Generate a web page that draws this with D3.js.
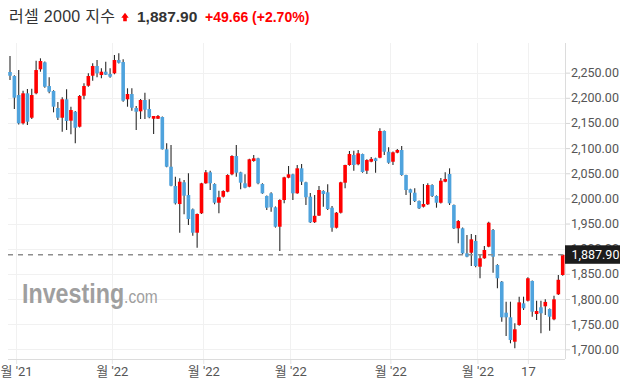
<!DOCTYPE html>
<html><head><meta charset="utf-8">
<script src="https://cdn.jsdelivr.net/npm/d3@7"></script>
<style>body{margin:0;background:#fff}svg{display:block}</style>
</head><body>
<svg id="c" width="632" height="383"></svg>
<script>
const openV = [2251.3,2243.3,2205.5,2149.3,2208.9,2160.4,2209,2256.6,2270.5,2223.4,2213.5,2179.7,2160.4,2197,2154.5,2172.3,2142.5,2204.1,2224,2243.9,2263.2,2245.3,2251.9,2247.3,2248.7,2275.1,2271.1,2197,2207.5,2179.7,2173.1,2195.6,2177.7,2158.4,2158.4,2161.8,2097.6,2063,2024.6,1988.8,2032,2006.7,1978.3,1931.8,1970.4,2030,2051.9,2028.6,1991.4,2003.4,2013.3,2047.9,2084.3,2051.9,2030,2023.2,2074.4,2079.7,2028.6,2004.8,2010.1,1982.3,1943.7,1996.8,2041.1,2047.9,2010.1,2059.8,2032,2003.4,1952.7,1965.8,2014.7,2012.1,1981.5,1941.7,1971.5,2031.2,2066.4,2086.3,2067.8,2088.2,2055.1,2073,2079.7,2080.9,2134,2092.8,2072.9,2090.9,2096.2,2046.5,2018.1,2011.3,1994.8,1983.5,1988.3,2026.6,2004.8,1991.4,2033.2,2048.5,1986.9,1940.5,1940.5,1890.8,1892,1915.3,1864.2,1880.9,1904,1937.2,1867.6,1834.4,1772.8,1763.6,1715.1,1748.3,1791.4,1796.6,1835.8,1770.2,1783.5,1785.5,1780.1,1759.6,1809.3,1847.7];
const highV = [2283,2245,2255.2,2214.1,2217.5,2218.1,2273.7,2278.5,2272,2240.7,2215,2191.6,2201,2216.9,2182.3,2174,2205.5,2228.8,2248.7,2268.6,2275.1,2258.6,2271.7,2258.6,2285.1,2288.4,2276.5,2218.9,2218.9,2183.7,2197.6,2210.1,2197,2163.8,2165.8,2163,2109.5,2106.1,2043.1,2039.9,2036.6,2049.9,1980,1970,2031,2056.4,2055.1,2030,2015.3,2016,2048,2086,2106.1,2053,2047.9,2079,2086.3,2081,2030,2006,2012,1984,1998.2,2043,2064.4,2049,2066.4,2068.4,2033,2010.7,2006.7,2024.8,2016,2028,1984.9,1973,2033,2067,2094.2,2094.8,2096.2,2089,2078,2082.3,2081,2139.4,2135,2101.6,2093,2098.2,2104.2,2047,2019,2020.1,1996,2028.6,2030,2028,2006,2040.5,2051.9,2059.8,1988,1957,1942,1927.2,1929.2,1927.2,1887.5,1905.4,1953.7,1939,1869,1836,1794.6,1794.6,1751.7,1804.6,1804.6,1843,1837,1796.6,1796.6,1799.4,1781,1806.6,1847.7,1889];
const lowV = [2235.4,2177.7,2147,2147,2145.9,2157.8,2207,2251.9,2220,2209,2171.1,2155.8,2132.6,2136,2127.4,2109.5,2141,2197,2222,2234,2240.7,2238.7,2245.3,2240,2247,2268,2192,2182.3,2174.3,2136,2157.8,2157.8,2159.2,2128,2158,2097,2062,2024,1988,1931.8,1968.4,1947.1,1925.8,1902,1969,2029,2016.7,1988.3,1970.4,2002,2012,2046,2043.1,2018.1,2020,2022,2073,2028,2009,1977,1973.5,1942,1895.4,1990.2,2040,1996.8,2009,2026.6,1986.9,1951,1951,1965,1983.5,1977,1933.8,1940,1970,2020.1,2065,2055.1,2066,2051,2048.5,2072,2051.1,2080,2086.3,2069,2066.4,2090,2045,2006.7,1986.9,1993,1979,1982,1987,2003,1981.5,1990,2032,1986.9,1939,1910.7,1889,1883,1865.6,1863,1841.2,1880,1903,1852.3,1821.3,1754.9,1726.4,1711.9,1702,1747,1778.1,1795,1764.8,1758.2,1731.8,1768.2,1737,1758,1808,1846];
const closeV = [2243.9,2200.2,2149.3,2208.9,2152.5,2205.5,2255.2,2273.1,2222,2212.1,2182.3,2160.4,2197,2153.9,2175.7,2140.5,2203.6,2223.4,2243.3,2263.2,2248.7,2251.9,2245.9,2241.9,2275.1,2269.7,2194.2,2207.5,2180.3,2172.3,2195.6,2176.3,2161.2,2163.8,2163.8,2097.6,2063,2025.2,1990.2,2033.2,2005.4,1959,1931.8,1969,2030,2051.9,2030,1991.4,2002.2,2014.7,2046.5,2084.3,2051.1,2031.2,2021.2,2077.7,2079.7,2030,2010.1,1981.5,1982.3,1943.7,1996.8,2041.9,2047.9,2010.1,2059.8,2033.2,2002.2,1952.5,1965.4,2016.7,2008.7,1978.9,1941.7,1971.5,2032,2066.4,2088.2,2066.4,2089.6,2052.5,2076.3,2078.5,2074.4,2134,2092.8,2070.9,2091.6,2096.2,2046.5,2016.7,2011.3,1994.8,1980.3,1988.8,2026.6,2004.8,1991.4,2035.2,2038.5,1990.2,1940.5,1955,1890.8,1884.1,1918.6,1865.6,1880.9,1897.4,1951.7,1884.1,1841.2,1763.6,1763.6,1718.5,1739.8,1793.4,1781.5,1841.2,1774.8,1776.1,1771.6,1794.2,1764.8,1799.4,1838.2,1887.9];
const yTicks = [1700,1750,1800,1850,1900,1950,2000,2050,2100,2150,2200,2250];
const xTickPos = [1.4,23.4,44.4,64.4,87.4,107.4,119.0];
const xTickLabels = ["월 '21","월 '22","월 '22","월 '22","월 '22","월 '22","17"];
const titleName = "러셀 2000 지수";
const lastPrice = 1887.90, changeAbs = 49.66, changePct = 2.70;

const svg = d3.select("#c");
const plotL = 8, plotR = 565, plotT = 43, plotB = 359;
const RED = "#ff0000", BLUE = "#4fa3dd";

const x = d3.scaleLinear().domain([0, openV.length - 1]).range([10, 562.7]);
const y = d3.scaleLinear().domain([1700, 2250]).range([349.3, 72.65]);

// grid
const grid = svg.append("g");
grid.selectAll("line.h").data(yTicks).join("line")
  .attr("x1", plotL).attr("x2", plotR)
  .attr("y1", d => Math.round(y(d)) + 0.5).attr("y2", d => Math.round(y(d)) + 0.5)
  .attr("stroke", "#f1f1f1").attr("stroke-width", 1);
grid.selectAll("line.v").data(xTickPos).join("line")
  .attr("x1", d => Math.round(x(d)) + 0.5).attr("x2", d => Math.round(x(d)) + 0.5)
  .attr("y1", plotT).attr("y2", plotB)
  .attr("stroke", "#f1f1f1").attr("stroke-width", 1);

// candles
const data = openV.map((o, i) => ({i, o, h: highV[i], l: lowV[i], c: closeV[i]}));
const cg = svg.append("g");
cg.selectAll("line.w").data(data).join("line")
  .attr("x1", d => x(d.i)).attr("x2", d => x(d.i))
  .attr("y1", d => y(d.h)).attr("y2", d => y(d.l))
  .attr("stroke", "#2a2a2a").attr("stroke-width", 1.1);
const bw = 3.6;
cg.selectAll("rect").data(data).join("rect")
  .attr("x", d => x(d.i) - bw / 2).attr("width", bw)
  .attr("y", d => y(Math.max(d.o, d.c)))
  .attr("height", d => Math.max(1.2, Math.abs(y(d.o) - y(d.c))))
  .attr("fill", d => d.c >= d.o ? RED : BLUE);

// current price dashed line
svg.append("line").attr("x1", plotL).attr("x2", plotR)
  .attr("y1", y(lastPrice)).attr("y2", y(lastPrice))
  .attr("stroke", "#8e8e8e").attr("stroke-width", 1.4).attr("stroke-dasharray", "5,5");

// axes
const yAxis = d3.axisRight(y).tickValues(yTicks).tickFormat(d3.format(",.2f")).tickSize(5).tickPadding(1);
const ya = svg.append("g").attr("transform", `translate(${plotR},0)`).call(yAxis);
ya.select(".domain").remove();
ya.selectAll(".tick line").attr("stroke", "#d6d6d6");
ya.selectAll(".tick text").attr("font-family", "Roboto, Arial, sans-serif").attr("font-size", 12.5).attr("fill", "#555");
svg.append("line").attr("x1", plotR + 0.5).attr("x2", plotR + 0.5).attr("y1", plotT).attr("y2", plotB)
  .attr("stroke", "#dcdcdc");

const xAxis = d3.axisBottom(x).tickValues(xTickPos).tickFormat((d, i) => xTickLabels[i]).tickSize(5).tickPadding(3);
const xa = svg.append("g").attr("transform", `translate(0,${plotB})`).call(xAxis);
xa.select(".domain").remove();
xa.selectAll(".tick line").attr("stroke", "#e6e6e6");
xa.selectAll(".tick text").attr("font-family", "Roboto, 'Noto Sans CJK KR', sans-serif").attr("font-size", 13).attr("fill", "#555");
svg.append("line").attr("x1", plotL).attr("x2", plotR).attr("y1", plotB + 0.5).attr("y2", plotB + 0.5)
  .attr("stroke", "#dcdcdc");

// price label box
const pb = svg.append("g");
pb.append("rect").attr("x", plotR).attr("y", y(lastPrice) - 9.5).attr("width", 55).attr("height", 18.5).attr("fill", "#1c1c1c");
pb.append("text").attr("x", plotR + 6.5).attr("y", y(lastPrice) + 4)
  .attr("font-family", "Roboto, Arial, sans-serif").attr("font-size", 12.5).attr("fill", "#fff")
  .text(d3.format(",.2f")(lastPrice));

// watermark (one text, two runs)
const wm = svg.append("text").attr("transform", "translate(22,303) scale(0.862,1)")
  .attr("fill", "#9f9f9f").attr("font-family", "Arial, 'Liberation Sans', sans-serif");
wm.append("tspan").attr("font-size", 27).attr("font-weight", "bold").text("Investing");
wm.append("tspan").attr("font-size", 18).text(".com");

// title
const tt = svg.append("g").attr("font-family", "Arial, 'Liberation Sans', 'Noto Sans CJK KR', sans-serif");
tt.append("text").attr("x", 9).attr("y", 21.5).attr("font-size", 16).attr("fill", "#333")
  .attr("textLength", 106).attr("lengthAdjust", "spacing").text(titleName);
tt.append("path").attr("d", "M121.3,17.8 L125,12.8 L128.7,17.8 L126.8,17.8 L126.8,21.3 L123.2,21.3 L123.2,17.8 Z").attr("fill", RED);
tt.append("text").attr("x", 137).attr("y", 21.5).attr("font-size", 15.5).attr("font-weight", "bold").attr("fill", "#333")
  .text(d3.format(",.2f")(lastPrice));
tt.append("text").attr("x", 205).attr("y", 21.5).attr("font-size", 14).attr("font-weight", "bold").attr("fill", RED)
  .text(`+${changeAbs.toFixed(2)} (+${changePct.toFixed(2)}%)`);
</script>
</body></html>
